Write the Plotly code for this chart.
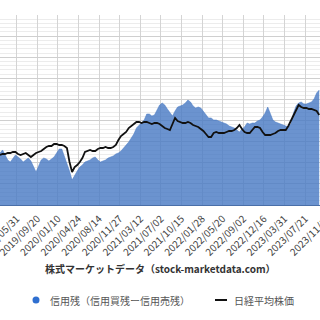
import plotly.graph_objects as go

# weekly observation number (one value read every 2 weeks)
week_no = list(range(0, 250, 2))

# 信用残（信用買残ー信用売残）, 億円
margin_balance = [
    12300, 13030, 11840, 10660, 10180, 11130, 11840, 11370, 10890, 10180,
    10660, 11130, 10420, 9240, 7820, 9240, 10660, 11130, 10890, 10420,
    10890, 11370, 12320, 13260, 13260, 11610, 9950, 8050, 5920, 7110,
    8050, 9000, 9470, 10180, 10420, 10660, 11130, 11370, 10660, 10180,
    10420, 10660, 11130, 11370, 11610, 12080, 12320, 12790, 13500, 13970,
    14920, 15870, 16820, 18240, 18950, 19420, 20130, 21550, 21550, 21080,
    21320, 22500, 23680, 24160, 23680, 22740, 21790, 21080, 22260, 23210,
    23450, 23680, 24160, 24870, 24390, 23450, 22970, 23210, 22970, 22260,
    21320, 20610, 20610, 20130, 20130, 19890, 19660, 19420, 19180, 18710,
    18470, 18240, 17760, 17290, 18000, 18470, 19420, 19180, 19420, 19420,
    19890, 20130, 20840, 21790, 23210, 21790, 20130, 19660, 19420, 19180,
    18950, 18710, 18470, 19180, 21790, 23450, 24160, 24390, 23920, 23920,
    24160, 24390, 25110, 26530, 27240,
]

# 日経平均株価
nikkei = [
    21000, 21250, 21250, 21500, 21500, 21750, 21750, 21250, 21000, 21250,
    21500, 21000, 20500, 21000, 21500, 21750, 22000, 22500, 23000, 23250,
    23250, 23750, 23750, 23500, 23500, 23250, 22750, 19250, 16750, 18000,
    18500, 19250, 20250, 21750, 22000, 22250, 22000, 22000, 22500, 22750,
    22750, 23000, 22750, 22750, 23000, 23500, 24750, 25750, 26250, 26750,
    27750, 28250, 28750, 29250, 29250, 29000, 29250, 29250, 29000, 28750,
    29000, 29000, 28750, 28250, 27750, 27500, 27250, 28750, 30250, 29500,
    29250, 29000, 29000, 29250, 29000, 28500, 28250, 28000, 27500, 27000,
    26250, 25500, 25500, 26500, 26750, 26500, 26500, 26500, 26750, 27000,
    27000, 27250, 27750, 28500, 27500, 26750, 26500, 26500, 27250, 28000,
    28000, 27750, 26750, 26000, 26000, 26000, 26250, 26500, 27000, 27250,
    27250, 27250, 28250, 29500, 30750, 32250, 33500, 33000, 32750, 32750,
    32500, 32500, 32250, 32000, 31000,
]

tick_labels = [
    "2019/05/31", "2019/09/20", "2020/01/10", "2020/04/24", "2020/08/14",
    "2020/11/27", "2021/03/12", "2021/07/02", "2021/10/15", "2022/01/28",
    "2022/05/20", "2022/09/02", "2022/12/16", "2023/03/31", "2023/07/21",
    "2023/11/10",
]
first_label_week = 13
label_every = 16
tick_vals = [first_label_week + label_every * i for i in range(len(tick_labels))]

title_text = "株式マーケットデータ（stock-marketdata.com）"
legend_names = ["信用残（信用買残ー信用売残）", "日経平均株価"]

AREA = "rgba(70,120,195,0.8)"
FONT = "Noto Sans CJK JP"
X_RANGE = [0, 248.6]
W = 320

fig = go.Figure()
fig.add_trace(go.Scatter(
    x=week_no, y=margin_balance, mode="lines", fill="tozeroy",
    line=dict(color=AREA, width=0.6), fillcolor=AREA,
    name=legend_names[0], showlegend=False, hoverinfo="skip",
))
fig.add_trace(go.Scatter(
    x=week_no, y=nikkei, mode="lines", yaxis="y2",
    line=dict(color="#111111", width=1.8),
    name=legend_names[1], showlegend=False, hoverinfo="skip",
))

PT, PB = 15, 205  # plot top / bottom in px (layout)
H = PB - PT


def py(p):
    return (PB - p) / H


# tick label past the right edge of the plot (partly visible, like the source crop)
last_tick_px = (tick_vals[-1] - X_RANGE[0]) / (X_RANGE[1] - X_RANGE[0]) * W
half = 19

fig.update_layout(
    width=W, height=320,
    margin=dict(l=0, r=0, t=PT, b=320 - PB, pad=0),
    paper_bgcolor="white", plot_bgcolor="white",
    showlegend=False,
    font=dict(family=FONT, color="#444444"),
    xaxis=dict(
        range=X_RANGE, tickmode="array", tickvals=tick_vals, ticktext=tick_labels,
        tickangle=-45, tickfont=dict(size=10, color="#444444", family=FONT),
        ticklabelstandoff=3, ticklabeloverflow="allow",
        showgrid=True, gridcolor="#d4d4d4", gridwidth=1, zeroline=False,
        showline=True, linecolor="#4a6fa8", linewidth=1, ticks="",
        automargin=False,
    ),
    yaxis=dict(
        range=[0, 45000], dtick=5000, showticklabels=False, showgrid=True,
        gridcolor="#cfcfcf", gridwidth=1, zeroline=False, ticks="",
        minor=dict(dtick=1000, showgrid=True, gridcolor="#ececec", gridwidth=1),
        automargin=False,
    ),
    yaxis2=dict(
        range=[8500, 56000], overlaying="y", side="right", showticklabels=False,
        showgrid=False, zeroline=False, ticks="", automargin=False,
    ),
    annotations=[
        dict(text=tick_labels[-1], xref="paper", yref="paper",
             x=(last_tick_px + 3 - half) / W, y=py(215 + half),
             xanchor="center", yanchor="middle", textangle=-45, showarrow=False,
             font=dict(size=10, color="#444444", family=FONT)),
        dict(text="<b>" + title_text + "</b>", xref="paper", yref="paper",
             x=0.5, y=py(268), xanchor="center", yanchor="middle", showarrow=False,
             font=dict(size=10, color="#333333", family=FONT)),
        dict(text=legend_names[0], xref="paper", yref="paper",
             x=48 / W, y=py(300), xanchor="left", yanchor="middle", showarrow=False,
             font=dict(size=10, color="#555555", family=FONT)),
        dict(text=legend_names[1], xref="paper", yref="paper",
             x=232 / W, y=py(300), xanchor="left", yanchor="middle", showarrow=False,
             font=dict(size=10, color="#555555", family=FONT)),
    ],
    shapes=[
        dict(type="circle", xref="paper", yref="paper", xsizemode="pixel", ysizemode="pixel",
             xanchor=36 / W, yanchor=py(300), x0=-3.5, x1=3.5, y0=-3.5, y1=3.5,
             fillcolor="#2f6fd0", line=dict(width=0)),
        dict(type="line", xref="paper", yref="paper",
             x0=215 / W, x1=227 / W, y0=py(300), y1=py(300),
             line=dict(color="#111111", width=2)),
    ],
)

fig.write_html("out.html")
